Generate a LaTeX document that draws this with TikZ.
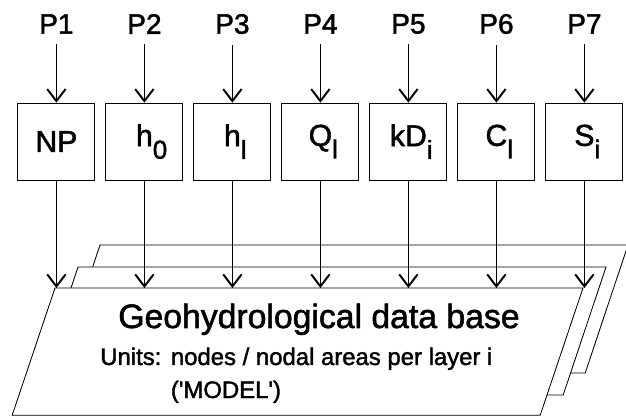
\documentclass[tikz,border=0pt]{standalone}
\usepackage{fontspec}
\setmainfont{Liberation Sans}[FakeBold=1.6]
\usetikzlibrary{arrows.meta}

\tikzset{
  param/.style={font=\fontsize{20}{24}\selectfont},
  databox/.style={draw, line width=0.6pt, minimum size=1.925cm, inner sep=0pt,
    font=\fontsize{21.5}{26}\selectfont},
  feed/.style={line width=0.5pt, -{Straight Barb[length=3mm,width=4.6mm,line width=1.4pt]}},
  layer/.style={draw, fill=white, line width=0.6pt}
}
% hanging index next to a symbol
\newcommand{\lowidx}[1]{\rlap{\raisebox{-9pt}{\fontsize{18.5}{18}\selectfont #1}}}

\begin{document}
\begin{tikzpicture}
  \useasboundingbox (0,0) rectangle (15.65,10.4);

  % the three layers of the data base
  \draw[layer, shift={(1.125,1.075)}] (1.375,3.2) -- ++(13.2,0) -- ++(-1.07,-3.2) -- ++(-13.2,0) -- cycle;
  \draw[layer, shift={(0.575,0.525)}] (1.375,3.2) -- ++(13.2,0) -- ++(-1.07,-3.2) -- ++(-13.2,0) -- cycle;
  \draw[layer] (1.375,3.2) -- ++(13.2,0) -- ++(-1.07,-3.18) -- ++(-13.2,0) -- cycle;
  \coordinate (dbtop) at (0,3.2);

  \node[font=\fontsize{24}{29}\selectfont, anchor=base] (dbname) at (7.975,2.2) {Geohydrological data base};
  \node[font=\fontsize{17}{23.5}\selectfont, anchor=base west, inner sep=0pt] (units) at (2.5,1.275)
    {\begin{tabular}[t]{@{}l@{\hspace{0.4em}}l@{}}Units: & nodes / nodal areas per layer i\\
      & (\textquotesingle MODEL\textquotesingle)\end{tabular}};

  % parameters
  \node[param] (p1) at (1.41,9.8) {P1};
  \node[param] (p2) at (3.61,9.8) {P2};
  \node[param] (p3) at (5.81,9.8) {P3};
  \node[param] (p4) at (8.01,9.8) {P4};
  \node[param] (p5) at (10.21,9.8) {P5};
  \node[param] (p6) at (12.41,9.8) {P6};
  \node[param] (p7) at (14.61,9.8) {P7};

  \node[databox] (b1) at (1.41,6.86) {NP};
  \node[databox] (b2) at (3.61,6.86) {h\lowidx{0}};
  \node[databox] (b3) at (5.81,6.86) {h\lowidx{l}};
  \node[databox] (b4) at (8.01,6.86) {Q\lowidx{l}};
  \node[databox] (b5) at (10.21,6.86) {kD\lowidx{i}};
  \node[databox] (b6) at (12.41,6.86) {C\lowidx{l}};
  \node[databox] (b7) at (14.61,6.86) {S\lowidx{i}};

  \draw[feed, shorten <=1.4mm] (p1) -- (b1);
  \draw[feed, shorten <=1.4mm] (p2) -- (b2);
  \draw[feed, shorten <=1.4mm] (p3) -- (b3);
  \draw[feed, shorten <=1.4mm] (p4) -- (b4);
  \draw[feed, shorten <=1.4mm] (p5) -- (b5);
  \draw[feed, shorten <=1.4mm] (p6) -- (b6);
  \draw[feed, shorten <=1.4mm] (p7) -- (b7);

  \draw[feed] (b1) -- (b1 |- dbtop);
  \draw[feed] (b2) -- (b2 |- dbtop);
  \draw[feed] (b3) -- (b3 |- dbtop);
  \draw[feed] (b4) -- (b4 |- dbtop);
  \draw[feed] (b5) -- (b5 |- dbtop);
  \draw[feed] (b6) -- (b6 |- dbtop);
  \draw[feed] (b7) -- (b7 |- dbtop);
\end{tikzpicture}
\end{document}
